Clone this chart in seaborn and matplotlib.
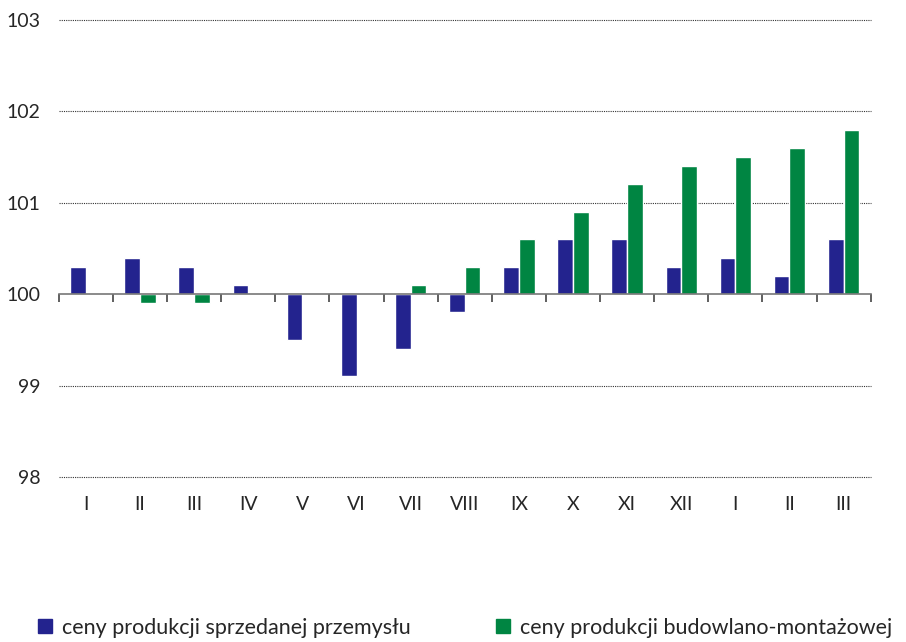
import numpy as np
import pandas as pd
import matplotlib
matplotlib.use('Agg')
import matplotlib.pyplot as plt
from matplotlib.lines import Line2D
import seaborn as sns

# dane
months = ['I', 'II', 'III', 'IV', 'V', 'VI', 'VII', 'VIII', 'IX', 'X', 'XI', 'XII', 'I', 'II', 'III']
przemysl = [100.3, 100.4, 100.3, 100.1, 99.5, 99.1, 99.4, 99.8, 100.3, 100.6, 100.6, 100.3, 100.4, 100.2, 100.6]
budowlanka = [100.0, 99.9, 99.9, 100.0, 100.0, 100.0, 100.1, 100.3, 100.6, 100.9, 101.2, 101.4, 101.5, 101.6, 101.8]
series_names = ['ceny produkcji sprzedanej przemysłu', 'ceny produkcji budowlano-montażowej']
colors = ['#23238e', '#008542']
BASE = 100

sns.set_style('white')
plt.rcParams['font.family'] = ['Lato', 'DejaVu Sans']

n = len(months)
df = pd.DataFrame({
    'pos': list(range(n)) * 2,
    'value': przemysl + budowlanka,
    'series': [series_names[0]] * n + [series_names[1]] * n,
})
df['dev'] = df['value'] - BASE  # słupki rysowane od poziomu 100

fig = plt.figure(figsize=(9.06, 6.42), dpi=100)
ax = fig.add_axes([0.065, 0.257, 0.896, 0.712])

sns.barplot(data=df, x='pos', y='dev', hue='series', palette=colors,
            width=0.58, gap=0, legend=False, ax=ax, saturation=1)

ax.set_xlim(-0.5, n - 0.5)
ax.set_ylim(98 - BASE, 103 - BASE)

# siatka kropkowana
for yv in [98, 99, 101, 102, 103]:
    ax.axhline(yv - BASE, color='#333333', lw=0.8, ls=(0, (1, 1)), zorder=0, clip_on=False)

yticks = np.arange(98, 104) - BASE
ax.set_yticks(yticks)
ax.set_yticklabels([str(int(v + BASE)) for v in yticks], fontsize=14)
ax.tick_params(axis='y', length=0, pad=13)

# oś pozioma na poziomie 100 z kreskami między kategoriami
for s in ['top', 'right', 'left']:
    ax.spines[s].set_visible(False)
ax.spines['bottom'].set_position(('data', 0))
ax.spines['bottom'].set_color('#777777')
ax.spines['bottom'].set_linewidth(1.2)
ax.set_xticks(np.arange(n))
ax.set_xticklabels([])
ax.set_xticks(np.arange(-0.5, n), minor=True)
ax.tick_params(axis='x', which='major', length=0, bottom=False)
ax.tick_params(axis='x', which='minor', length=6, width=1.2, color='#444444',
               direction='out', bottom=True)

sec = ax.secondary_xaxis(0)
sec.set_xticks(np.arange(n))
sec.set_xticklabels(months, fontsize=14)
sec.tick_params(length=0, pad=14)
sec.spines['bottom'].set_visible(False)

ax.set_xlabel('')
ax.set_ylabel('')

handles = [Line2D([0], [0], marker='s', ls='', markersize=10, color=c) for c in colors]
fig.legend(handles, series_names, loc='lower left', bbox_to_anchor=(0.016, -0.024),
           ncol=2, frameon=False, fontsize=15.5, handletextpad=0.3, columnspacing=3.8,
           handlelength=1.0)

fig.savefig('out.png', dpi=100)
